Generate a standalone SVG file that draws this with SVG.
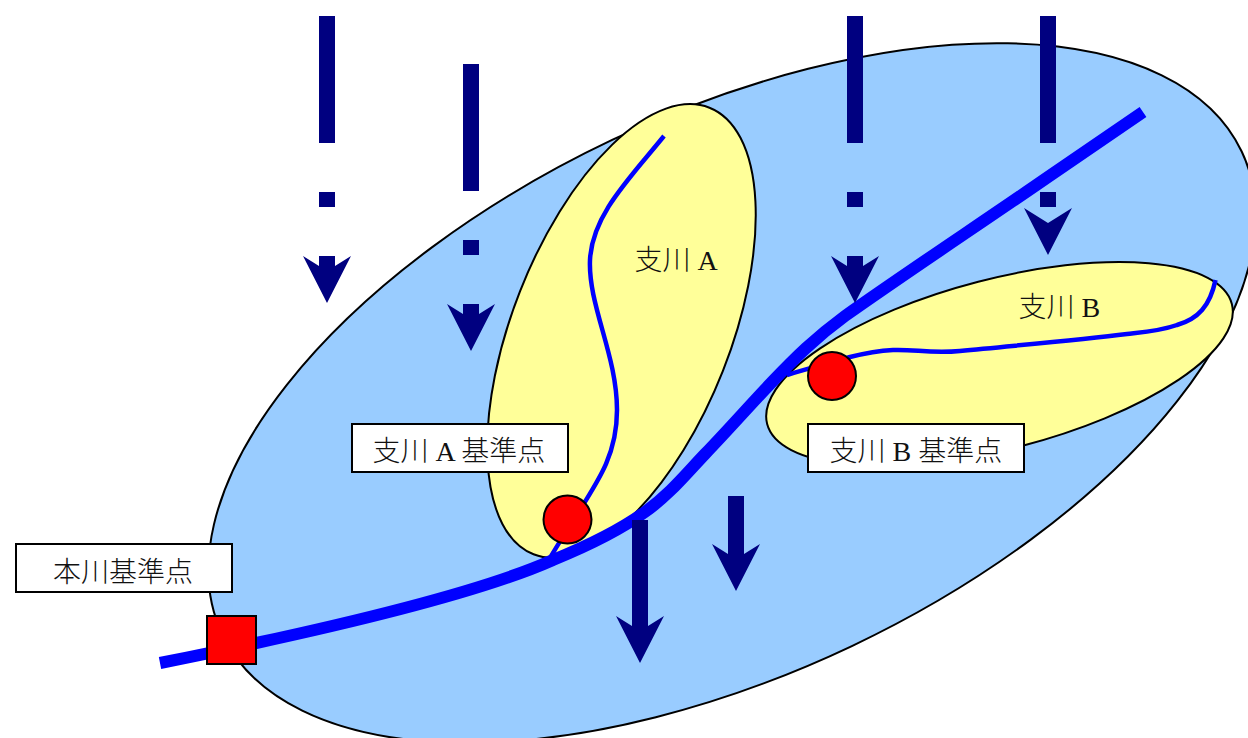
<svg xmlns="http://www.w3.org/2000/svg" width="1248" height="738" viewBox="0 0 1248 738">
<style>
.basin{fill:#99ccff;stroke:#000;stroke-width:2}
.sub{fill:#ffff99;stroke:#000;stroke-width:2}
.main{fill:none;stroke:#0000ff;stroke-width:12}
.trib{fill:none;stroke:#0000ff;stroke-width:4.5}
.rain{fill:#000080}
.pt{fill:#ff0000;stroke:#000;stroke-width:2}
.box{fill:#fff;stroke:#000;stroke-width:2}
text{font-family:"Liberation Serif","Noto Sans CJK JP",serif;font-size:28px;font-weight:300;fill:#111}
</style>
<defs>
<path id="head" d="M-24 0L0 47L24 0L0 15Z"/>
</defs>
<g id="basin"><ellipse class="basin" cx="732" cy="393" rx="564" ry="280" transform="rotate(-25.35 732 393)"/></g>
<g id="subbasin-a"><ellipse class="sub" cx="621.5" cy="331" rx="240" ry="109" transform="rotate(-68.5 621.5 331)"/></g>
<g id="subbasin-b"><ellipse class="sub" cx="999.5" cy="364" rx="240" ry="85" transform="rotate(-14.5 999.5 364)"/></g>
<g id="connectors">
<path id="river-a" class="trib" d="M664 136C630 178 592 215 590 260C588 305 617 355 617 410C617 465 590 490 550 558"/>
<path id="river-b" class="trib" d="M1215.5 280C1210 306 1198 319 1177 325C1160 331 1145 332 1127 334C1080 340 1020 345 960 351C930 354 915 349 893 350C875 351 862 354 850 357C830 363 810 368 787 375"/>
<path id="river-main" class="main" d="M160 663C300 635 470 597 553 560C590 545 620 530 645 512C670 494 685 475 705 454C730 428 750 405 772 382C795 358 815 338 845 316C910 270 980 224 1048 177L1143 112"/>
</g>
<g id="rain" class="rain">
<rect x="319" y="16" width="16" height="127"/><rect x="319" y="192" width="16" height="15"/><rect x="319" y="256" width="16" height="25"/><use href="#head" x="327" y="256"/>
<rect x="463" y="64" width="16" height="127"/><rect x="463" y="240" width="16" height="15"/><rect x="463" y="304" width="16" height="25"/><use href="#head" x="471" y="304"/>
<rect x="847" y="16" width="16" height="127"/><rect x="847" y="192" width="16" height="15"/><rect x="847" y="256" width="16" height="25"/><use href="#head" x="855" y="256"/>
<rect x="1040" y="16" width="16" height="127"/><rect x="1040" y="192" width="16" height="15"/><use href="#head" x="1048" y="208"/>
<rect x="632" y="520" width="16" height="116"/><use href="#head" x="640" y="616"/>
<rect x="728" y="496" width="16" height="68"/><use href="#head" x="736" y="544"/>
</g>
<g id="point-a"><circle class="pt" cx="567.5" cy="519.5" r="24"/></g>
<g id="point-b"><circle class="pt" cx="832" cy="376" r="24"/></g>
<g id="point-main"><rect class="pt" x="207" y="616" width="49" height="48"/></g>
<g id="label-a"><text x="634.5" y="270">支川 A</text></g>
<g id="label-b"><text x="1018.5" y="317">支川 B</text></g>
<g id="label-point-a"><rect class="box" x="352" y="424" width="216" height="48"/><text x="372.5" y="461">支川 A 基準点</text></g>
<g id="label-point-b"><rect class="box" x="808" y="424" width="216" height="48"/><text x="829.5" y="461">支川 B 基準点</text></g>
<g id="label-point-main"><rect class="box" x="16" y="544" width="216" height="48"/><text x="53" y="582">本川基準点</text></g>
</svg>
